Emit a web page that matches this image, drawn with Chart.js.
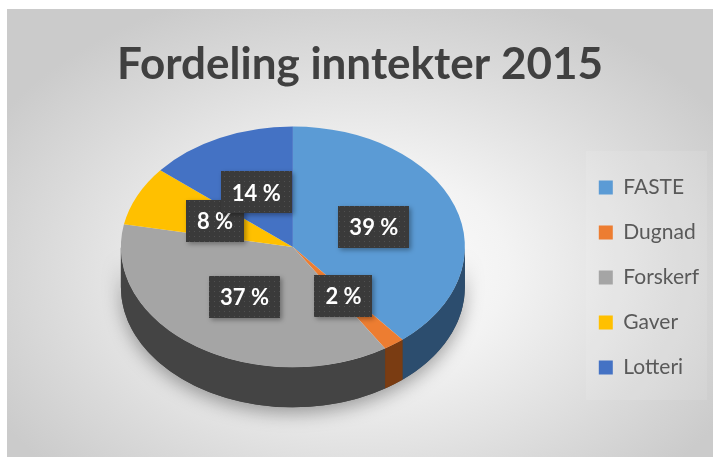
<!DOCTYPE html>
<html>
<head>
<meta charset="utf-8">
<script src="https://cdn.jsdelivr.net/npm/chart.js@4"></script>
<style>
  html, body { margin: 0; padding: 0; background: #fff; }
  #wrap {
    position: absolute; left: 7px; top: 9px; width: 706px; height: 448px;
    background: radial-gradient(ellipse 60% 65% at 50% 58%, #ffffff 0%, #f3f3f3 35%, #dadada 75%, #cbcbcb 100%);
  }
  canvas { display: block; }
</style>
</head>
<body>
<div id="wrap"><canvas id="pie-chart"></canvas></div>
<script>
var categories = ["FASTE", "Dugnad", "Forskerf", "Gaver", "Lotteri"];
var shares = [39, 2, 37, 8, 14];
var sliceColors = ["#5B9BD5", "#ED7D31", "#A5A5A5", "#FFC000", "#4472C4"];
var sideColors = ["#2c4d6e", "#7a3c12", "#444444", "#806000", "#223a66"];

var TILT = 0.70;   // vertical squash of the pie
var DEPTH = 40;    // thickness of the 3D side in pixels

// little dotted fill like the Excel label boxes
var dots = document.createElement("canvas");
dots.width = 5; dots.height = 5;
var dctx = dots.getContext("2d");
dctx.fillStyle = "#3a3a3a"; dctx.fillRect(0, 0, 5, 5);
dctx.fillStyle = "#505050"; dctx.fillRect(2, 2, 1, 1);

var pie3d = {
  id: "pie3d",
  beforeDraw: function(chart) {
    // faint panel behind the legend
    var boxes = chart.legend && chart.legend.legendHitBoxes;
    if (!boxes || !boxes.length) return;
    var ctx = chart.ctx;
    var last = boxes[boxes.length - 1];
    var top = boxes[0].top - 26, bottom = last.top + last.height + 22;
    ctx.save();
    ctx.fillStyle = "rgba(255,255,255,0.1)";
    ctx.fillRect(boxes[0].left - 13, top, chart.width - boxes[0].left + 7, bottom - top);
    ctx.restore();
  },
  beforeDatasetsDraw: function(chart) {
    var ctx = chart.ctx;
    var els = chart.getDatasetMeta(0).data;
    if (!els.length) return;
    var cx = els[0].x, cy = els[0].y;
    ctx.save();
    ctx.translate(cx, cy);
    ctx.scale(1, TILT);
    ctx.translate(-cx, -cy);
    var d = DEPTH / TILT;
    // soft shadow under the pie
    ctx.save();
    ctx.shadowColor = "rgba(0,0,0,0.35)";
    ctx.shadowBlur = 18;
    ctx.shadowOffsetY = 6;
    ctx.beginPath();
    ctx.arc(cx, cy + d, els[0].outerRadius, 0, Math.PI);
    ctx.arc(cx, cy, els[0].outerRadius, Math.PI, 0, true);
    ctx.fillStyle = "#444";
    ctx.fill();
    ctx.restore();
    els.forEach(function(el, i) {
      var s = el.startAngle, e = el.endAngle;
      [[0, Math.PI], [2 * Math.PI, 3 * Math.PI]].forEach(function(win) {
        var a = Math.max(s, win[0]), b = Math.min(e, win[1]);
        if (b <= a) return;
        ctx.beginPath();
        ctx.arc(el.x, el.y + d, el.outerRadius, a, b);
        ctx.arc(el.x, el.y, el.outerRadius, b, a, true);
        ctx.closePath();
        ctx.fillStyle = sideColors[i];
        ctx.fill();
      });
    });
  },
  afterDatasetsDraw: function(chart) {
    var ctx = chart.ctx;
    ctx.restore();
    var els = chart.getDatasetMeta(0).data;
    if (!els.length) return;
    var cy = els[0].y;
    ctx.save();
    ctx.font = "bold 22px Lato";
    ctx.textAlign = "center";
    ctx.textBaseline = "middle";
    var pattern = ctx.createPattern(dots, "repeat");
    els.forEach(function(el, i) {
      var p = el.tooltipPosition();
      var x = p.x, y = cy + (p.y - cy) * TILT;
      var txt = shares[i] + " %";
      var w = ctx.measureText(txt).width + 22, h = 42;
      ctx.save();
      ctx.shadowColor = "rgba(0,0,0,0.35)";
      ctx.shadowBlur = 5;
      ctx.shadowOffsetX = 2;
      ctx.shadowOffsetY = 2;
      ctx.fillStyle = pattern;
      ctx.fillRect(Math.round(x - w / 2), Math.round(y - h / 2), Math.round(w), h);
      ctx.restore();
      ctx.fillStyle = "#ffffff";
      ctx.fillText(txt, x, y + 1);
    });
    ctx.restore();
  }
};

var CHART = document.getElementById("pie-chart");
var pieChart = new Chart(CHART, {
  type: "pie",
  data: {
    labels: categories,
    datasets: [{
      data: shares,
      backgroundColor: sliceColors,
      borderWidth: 0,
      radius: 172
    }]
  },
  options: {
    responsive: true,
    maintainAspectRatio: false,
    animation: false,
    layout: { padding: { left: 4, right: 4, top: 0, bottom: 55 } },
    plugins: {
      tooltip: { enabled: false },
      title: {
        display: true,
        text: "Fordeling inntekter 2015",
        color: "#404040",
        font: { family: "Lato", size: 44, weight: "bold" },
        padding: { top: 29, bottom: 1 }
      },
      legend: {
        position: "right",
        align: "end",
        labels: {
          color: "#595959",
          font: { family: "Lato", size: 21 },
          boxWidth: 14,
          boxHeight: 14,
          padding: 24
        }
      }
    }
  },
  plugins: [pie3d]
});
</script>
</body>
</html>
